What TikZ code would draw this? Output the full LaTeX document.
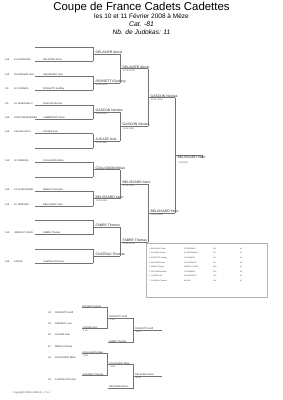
\documentclass[tikz,border=0pt]{standalone}
\usepackage{fontspec}
\setmainfont{Liberation Sans}
\usetikzlibrary{calc}
\begin{document}
\begin{tikzpicture}[x=1pt,y=-1pt,
  brl/.style={draw=black!55,line width=0.4pt},
  ent/.style={font=\fontsize{2.4}{2.8}\selectfont,inner sep=0pt,anchor=base west,text=black!85},
  lbl/.style={font=\fontsize{3.4}{4}\selectfont,inner sep=0pt,anchor=base west,text=black!85},
  scr/.style={font=\fontsize{2.2}{2.6}\selectfont,inner sep=0pt,anchor=north west,text=black!70},
  tbl/.style={font=\fontsize{1.8}{2.2}\selectfont,inner sep=0pt,anchor=base west,text=black!80},
  rep/.style={font=\fontsize{2.4}{2.8}\selectfont,inner sep=0pt,anchor=base west,text=black!85}]
\fill[white] (0,0) rectangle (283,400);
\useasboundingbox (0,0) rectangle (283,400);

% header
\node[font=\fontsize{11.4}{13}\selectfont,inner sep=0pt] (title) at (141.5,7.2) {Coupe de France Cadets Cadettes};
\node[font=\fontsize{6.5}{7.5}\selectfont,inner sep=0pt] (date) at (141.5,15.8) {les 10 et 11 Février 2008 à Mèze};
\node[font=\itshape\fontsize{6.8}{8}\selectfont,inner sep=0pt] (cat) at (141.5,24.2) {Cat. -81};
\node[font=\itshape\fontsize{6.6}{8}\selectfont,inner sep=0pt] (nbj) at (141.5,32.3) {Nb. de Judokas: 11};

% round 1 slots
\foreach \i/\y in {1/47.0,2/61.43,3/75.86,4/90.29,5/104.72,6/119.15,7/133.58,8/148.01,9/162.44,10/176.87,11/191.30,12/205.73,13/220.16,14/234.59,15/249.02,16/263.45}{
  \coordinate (a\i) at (35,\y);
  \coordinate (b\i) at (93,\y);
  \draw[brl] (a\i) -- (b\i);
}
% entries
\foreach \i/\lg/\cl/\nm in {2/CHI/AC AGATHOIS/DELAVIER Alexis,3/CHI/OLYMPIQUE CHIL./HEGOBURU Yvan,4/CS/JC GYMNOS/ROSSETTI Godfroy,5/CS/AL SERIGNAN V./GASCON Nicolas,6/CHI/JUDO FEUQUIERES/LAMBERDOT Kevin,7/CHI/SALANCLOS V./JUCAZE Axel,9/CHI/JC PENNOIS/COLLIGNON Milan,11/CHI/AS LAUDIVANNE/MMOS Christophe,12/CHI/JC PEZENAS/BELISSARD Yann,14/CHI/UNION ST-JUDO/FABRE Thomas,16/CHI/AJECM/CHATEAU Thomas}{
  \node[ent] (lg\i) at ($(a\i)+(-30,-0.6)$) {\lg};
  \node[ent] (cl\i) at ($(a\i)+(-21,-0.6)$) {\cl};
  \node[ent] (nm\i) at ($(a\i)+(8,-0.6)$) {\nm};
}

% round 1 matches
\foreach \k/\nm/\s in {1/DELAVIER Alexis/,2/ROSSETTI Godfroy/10:00 0001,3/GASCON Nicolas/10:00 0001,4/JUCAZE Axel/10:00 0001,5/COLLIGNON Milan/,6/BELISSARD Yann/10:00 0001,7/FABRE Thomas/,8/CHATEAU Thomas/}{
  \pgfmathtruncatemacro\ia{2*\k-1}
  \pgfmathtruncatemacro\ib{2*\k}
  \draw[brl] (b\ia) -- (b\ib);
  \coordinate (p1\k) at ($(b\ia)!0.5!(b\ib)$);
  \coordinate (q1\k) at ($(p1\k)+(27,0)$);
  \draw[brl] (p1\k) -- (q1\k);
  \node[lbl] (w1\k) at ($(p1\k)+(2.5,-0.5)$) {\nm};
  \node[scr] (s1\k) at ($(p1\k)+(3,1)$) {\s};
}

% round 2
\foreach \j/\nm/\s in {1/DELAVIER Alexis/10:00 10:00,2/GASCON Nicolas/10:00 0001,3/BELISSARD Yann/10:00 0001,4/FABRE Thomas/10:00 10:00}{
  \pgfmathtruncatemacro\ia{2*\j-1}
  \pgfmathtruncatemacro\ib{2*\j}
  \draw[brl] (q1\ia) -- (q1\ib);
  \coordinate (p2\j) at ($(q1\ia)!0.5!(q1\ib)$);
  \coordinate (q2\j) at ($(p2\j)+(28,0)$);
  \draw[brl] (p2\j) -- (q2\j);
  \node[lbl] (w2\j) at ($(p2\j)+(2.5,-0.5)$) {\nm};
  \node[scr] (s2\j) at ($(p2\j)+(3,1)$) {\s};
}

% round 3
\foreach \l/\nm/\s in {1/GASCON Nicolas/10:01 00:10,2/BELISSARD Yann/00:01 00:10}{
  \pgfmathtruncatemacro\ia{2*\l-1}
  \pgfmathtruncatemacro\ib{2*\l}
  \draw[brl] (q2\ia) -- (q2\ib);
  \coordinate (p3\l) at ($(q2\ia)!0.5!(q2\ib)$);
  \coordinate (q3\l) at ($(p3\l)+(27,0)$);
  \draw[brl] (p3\l) -- (q3\l);
  \node[lbl] (w3\l) at ($(p3\l)+(2.5,-0.5)$) {\nm};
  \node[scr] (s3\l) at ($(p3\l)+(3,1)$) {\s};
}

% final
\draw[brl] (q31) -- (q32);
\coordinate (pF) at ($(q31)!0.5!(q32)$);
\coordinate (qF) at ($(pF)+(27,0)$);
\coordinate (tF) at ($(qF)+(0,3)$);
\draw[brl] (pF) -- (qF) -- (tF);
\node[lbl] (wF) at ($(pF)+(2.5,3.6)$) {BELISSARD Yann};
\node[scr] (sF) at ($(pF)+(3,6.6)$) {1:00 0001};

% results table
\draw[draw=black!30,line width=0.4pt] (146,243.5) rectangle (267,297.5);
\foreach \k/\r/\nm/\cl/\c/\d in {1/1./BELISSARD Yann/JC PEZENAS/CHI/M,2/2./GASCON Nicolas/AL SERIGNAN V./CS/M,3/3./ROSSETTI Godfroy/JC GYMNOS/CS/M,4/3./DELAVIER Alexis/AC AGATHOIS/CHI/M,5/5./FABRE Thomas/UNION ST-JUDO/CHI/M,6/5./COLLIGNON Milan/JC PENNOIS/CHI/M,7/7./JUCAZE Axel/SALANCLOS V./CHI/M,8/7./CHATEAU Thomas/AJECM/CHI/M}{
  \node[tbl] (tn\k) at (149,{249.3+4.6*(\k-1)}) {\r\ \nm};
  \node[tbl] (tc\k) at (184,{249.3+4.6*(\k-1)}) {\cl};
  \node[tbl] (tl\k) at (213,{249.3+4.6*(\k-1)}) {\c};
  \node[tbl] (td\k) at (240,{249.3+4.6*(\k-1)}) {\d};
}

% repechage list
\foreach \k/\y/\n/\nm in {1/313/34/ROSSETTI Godf,2/324/34/GIRBAUD Luca,3/335/34/JUCAZE Axel,4/347/11/MMOS Christop,5/358/34/COLLIGNON Milan,6/380/34/CHATEAU Thomas}{
  \node[rep] (ln\k) at (48,\y) {\n};
  \node[rep] (lm\k) at (55,\y) {\nm};
}

% repechage bracket (top)
\coordinate (rA1) at (82,307.5); \coordinate (rA2) at (107,307.5);
\coordinate (rB1) at (82,328.5); \coordinate (rB2) at (107,328.5);
\draw[brl] (rA1) -- (rA2) -- (rB2) -- (rB1);
\node[rep] (nA) at ($(rA1)+(0.5,-0.5)$) {ROSSETTI Godf};
\node[rep] (nB) at ($(rB1)+(0.5,-0.5)$) {JUCAZE Axel};
\node[scr] (sB) at ($(rB1)+(1,1)$) {1:00};
\coordinate (rW1) at ($(rA2)!0.5!(rB2)$); \coordinate (rW2) at ($(rW1)+(26,0)$);
\coordinate (rF1) at (108,342.5); \coordinate (rF2) at (133,342.5);
\draw[brl] (rW1) -- (rW2) -- (rF2) -- (rF1);
\node[rep] (nW) at ($(rW1)+(2,-0.5)$) {ROSSETTI Godf};
\node[scr] (sW) at ($(rW1)+(3,1)$) {1:00};
\node[rep] (nF) at ($(rF1)+(1,-0.5)$) {FABRE Thomas};
\coordinate (rX1) at ($(rW2)!0.5!(rF2)$); \coordinate (rX2) at ($(rX1)+(29,0)$);
\draw[brl] (rX1) -- (rX2);
\node[rep] (nX) at ($(rX1)+(2,-0.5)$) {ROSSETTI Godf};
\node[scr] (sX) at ($(rX1)+(3,1)$) {0001};

% repechage bracket (bottom)
\coordinate (rC1) at (82,353.5); \coordinate (rC2) at (107,353.5);
\coordinate (rD1) at (82,375.5); \coordinate (rD2) at (107,375.5);
\draw[brl] (rC1) -- (rC2) -- (rD2) -- (rD1);
\node[rep] (nC) at ($(rC1)+(0.5,-0.5)$) {COLLIGNON Milan};
\node[scr] (sC) at ($(rC1)+(1,1)$) {1000};
\node[rep] (nD) at ($(rD1)+(0.5,-0.5)$) {CHATEAU Thomas};
\coordinate (rV1) at ($(rC2)!0.5!(rD2)$); \coordinate (rV2) at ($(rV1)+(26,0)$);
\coordinate (rE1) at (108,388); \coordinate (rE2) at (133,388);
\draw[brl] (rV1) -- (rV2) -- (rE2) -- (rE1);
\node[rep] (nV) at ($(rV1)+(2,-0.5)$) {COLLIGNON Milan};
\node[scr] (sV) at ($(rV1)+(3,1)$) {1000};
\node[rep] (nE) at ($(rE1)+(1,-0.5)$) {DELAVIER Alexis};
\coordinate (rY1) at ($(rV2)!0.5!(rE2)$); \coordinate (rY2) at ($(rY1)+(29,0)$);
\draw[brl] (rY1) -- (rY2);
\node[rep] (nY) at ($(rY1)+(2,-0.5)$) {DELAVIER Alexis};
\node[scr] (sY) at ($(rY1)+(3,1)$) {0010};

% copyright
\node[font=\fontsize{2.5}{3}\selectfont,inner sep=0pt,anchor=base west,text=black!70] (copy) at (13,393) {Copyright ©2010-2008 JE - V 1.1};
\end{tikzpicture}
\end{document}
